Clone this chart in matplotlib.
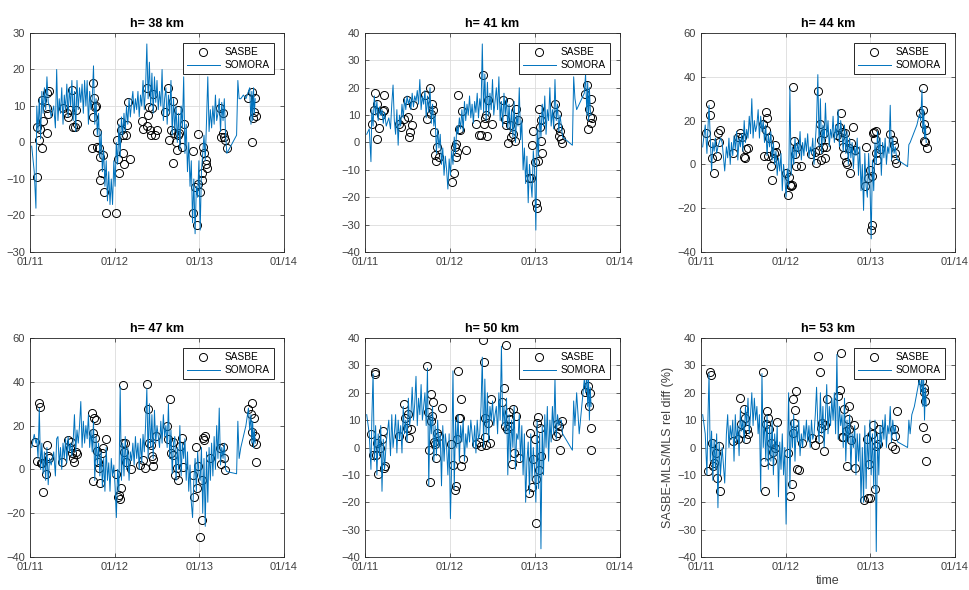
import numpy as np
import matplotlib
matplotlib.use('Agg')
import matplotlib.pyplot as plt

plt.rcParams['font.family'] = ['Liberation Sans', 'DejaVu Sans']

altitudes = [38, 41, 44, 47, 50, 53]
x_ticks = [2011, 2012, 2013, 2014]
x_tick_labels = ['01/11', '01/12', '01/13', '01/14']
y_limits = [(-30, 30), (-40, 40), (-40, 60), (-40, 60), (-40, 40), (-40, 40)]
y_steps = [10, 10, 20, 20, 10, 10]

# SOMORA sampling times (decimal year), shared by all altitudes
somora_t = [
    2011.02, 2011.05, 2011.07, 2011.08, 2011.095, 2011.11, 2011.125, 2011.14, 2011.155, 2011.17,
    2011.185, 2011.20, 2011.215, 2011.23, 2011.25, 2011.28, 2011.30, 2011.315, 2011.33, 2011.345,
    2011.36, 2011.375, 2011.39, 2011.405, 2011.42, 2011.435, 2011.45, 2011.465, 2011.48, 2011.495,
    2011.51, 2011.525, 2011.54, 2011.555, 2011.57, 2011.585, 2011.60, 2011.615, 2011.63, 2011.645,
    2011.66, 2011.675, 2011.69, 2011.705, 2011.72, 2011.735, 2011.75, 2011.765, 2011.78, 2011.795,
    2011.81, 2011.825, 2011.84, 2011.855, 2011.87, 2011.885, 2011.90, 2011.915, 2011.93, 2011.945,
    2011.96, 2011.975, 2011.99, 2012.005, 2012.02, 2012.035, 2012.05, 2012.065, 2012.08, 2012.095,
    2012.11, 2012.125, 2012.14, 2012.155, 2012.17, 2012.185, 2012.20, 2012.215, 2012.23, 2012.245,
    2012.26, 2012.275, 2012.29, 2012.305, 2012.32, 2012.335, 2012.35, 2012.365, 2012.38, 2012.395,
    2012.41, 2012.425, 2012.44, 2012.455, 2012.47, 2012.485, 2012.50, 2012.515, 2012.53, 2012.545,
    2012.56, 2012.575, 2012.59, 2012.605, 2012.62, 2012.635, 2012.65, 2012.665, 2012.68, 2012.695,
    2012.71, 2012.725, 2012.74, 2012.755, 2012.77, 2012.785, 2012.80, 2012.815, 2012.83, 2012.845,
    2012.86, 2012.875, 2012.89, 2012.905, 2012.92, 2012.935, 2012.95, 2012.965, 2012.98, 2012.995,
    2013.01, 2013.025, 2013.04, 2013.055, 2013.07, 2013.085, 2013.10, 2013.115, 2013.13, 2013.145,
    2013.16, 2013.175, 2013.19, 2013.205, 2013.22, 2013.235, 2013.25, 2013.265, 2013.28, 2013.295,
    2013.31, 2013.325, 2013.44, 2013.455, 2013.47, 2013.49, 2013.52, 2013.55, 2013.58, 2013.595,
    2013.61, 2013.62, 2013.63, 2013.64, 2013.65, 2013.66,
]

somora_38 = [
    -1, -8, -18, 10, 3, 12, 1, 14, 8, 15,
    9, 18, 11, 10, 7, 10, 4, 20, 6, 12,
    8, 15, 5, 13, 9, 16, 7, 15, 10, 17,
    6, 14, 3, 17, 9, 15, 11, 16, 8, 17,
    10, 17, 5, 14, 9, 12, 21, 5, 12, 2,
    8, -4, 3, -8, -2, -12, -5, -16, -8, -17,
    -10, -17, -5, -12, 0, -6, 5, -4, 7, 2,
    8, 3, 10, 5, 12, 7, 11, 14, 8, 12,
    9, 14, 7, 13, 10, 17, 9, 15, 27, 12,
    22, 10, 19, 8, 18, 11, 17, 9, 14, 10,
    20, 6, 12, 15, 5, 13, 8, 17, 2, 12,
    3, 10, 0, 8, -2, 10, 4, 18, -3, 5,
    -8, 0, -12, -5, -22, -10, -25, -12, -15, -5,
    -24, -8, -3, 2, -5, 6, 18, 3, 9, 4,
    10, 5, 13, 6, 8, 12, 3, 11, 6, 12,
    2, -3, 2, 17, 12, 12, 13, 12, 14, 15,
    5, 14, 6, 15, 8, 12,
]
somora_41 = [
    3, 5, -7, 12, 6, 17, 10, 15, 8, 13,
    10, 12, 7, 11, 6, 9, 5, 14, 21, 8,
    3, 12, -1, 10, 6, 14, 9, 16, 12, 17,
    14, 16, 12, 18, 13, 17, 15, 19, 14, 23,
    12, 17, 14, 19, 9, 17, 11, 20, 7, 14,
    6, 10, -4, 5, -2, 3, -8, -2, -12, -5,
    -10, -17, -6, -12, -3, -8, 2, -4, 6, 3,
    9, 5, 12, 4, 15, 8, 14, 10, 17, 9,
    14, 7, 15, 11, 18, 9, 16, 12, 36, 11,
    25, 8, 22, 10, 18, 12, 23, 10, 15, 20,
    12, 24, 8, 15, 6, 18, 10, 16, 5, 14,
    4, 12, 2, 15, 0, 10, 6, 20, 1, 8,
    -10, -2, -15, -5, -22, -8, -14, -20, -3, -10,
    -32, 5, -5, 10, 2, 14, 6, 17, 3, 12,
    8, 20, 6, 12, 5, 23, 8, 14, 4, 10,
    6, 2, -1, 24, 16, 12, 14, 16, 18, 25,
    10, 22, 8, 20, 12, 10,
]
somora_44 = [
    8, 18, 5, 15, 27, 12, -3, 10, 6, 12,
    5, 8, 10, 12, 10, -3, 8, 3, 12, 0,
    10, 4, 13, 7, 15, 2, 12, 8, 14, 6,
    20, 10, 16, 12, 22, 14, 30, 12, 20, 15,
    18, 25, 12, 22, 15, 20, 10, 18, 4, 14,
    8, 15, 2, 10, 0, 6, -5, 3, -3, 5,
    -12, 0, -6, -15, -2, -10, 35, -5, 8, 0,
    12, 3, 10, 5, 15, 2, 10, 4, 12, 6,
    14, 3, 8, 5, 12, 0, 10, 20, 41, 8,
    30, 5, 18, 10, 28, 12, 20, 8, 16, 12,
    22, 10, 18, 12, 25, 8, 20, 14, 6, 18,
    5, 15, 0, 12, 3, 10, -2, 8, 4, 12,
    -5, 8, -12, 0, -21, 5, -10, -15, 5, -8,
    -34, 2, -12, 10, 0, 15, 5, 12, -5, 10,
    3, 12, 0, 8, 5, 27, 2, 12, 5, 8,
    3, 2, -1, 9, 10, 12, 15, 18, 23, 20,
    34, 15, 25, 12, 18, 10,
]
somora_47 = [
    10, 16, 12, 14, 5, 28, 0, 12, -2, 8,
    -5, 10, -7, 5, 2, 8, -3, 14, 15, 2,
    10, 0, 12, 5, 14, 3, 15, 8, 12, 6,
    13, 25, 8, 18, 12, 20, 31, 10, 22, 12,
    20, 14, 25, 10, 18, 8, 22, -5, 15, 2,
    12, -3, 8, -8, 5, -10, 10, -5, 3, -10,
    5, -3, 2, -8, -22, 0, -10, 38, -5, 12,
    -3, 15, 0, 10, -5, 8, 4, 12, 2, 15,
    5, 12, 0, 14, 3, 16, 8, 20, 37, 5,
    30, 10, 25, 5, 27, 12, 20, 15, 10, 22,
    12, 25, 15, 20, 10, 30, 5, 18, -2, 12,
    15, -5, 10, 0, 20, -3, 12, 5, 14, -5,
    8, -10, 2, -15, -22, -5, 5, -10, 8, -2,
    -5, 10, -20, 5, -26, 8, -15, 10, -5, 12,
    -3, 15, 0, 20, 5, 28, 2, 10, 5, 12,
    0, -1, -2, 22, 5, 10, 15, 20, 28, 18,
    25, 12, 22, 10, 18, 12,
]
somora_50 = [
    12, 5, -8, 10, 27, -5, 8, -10, 5, -3,
    8, -16, 3, -8, 2, 10, -3, 12, 0, 5,
    12, -2, 10, 3, 8, -2, 15, 5, 10, 2,
    18, 8, 12, 22, 10, 16, 26, 8, 18, 12,
    23, 10, 15, 20, 8, 29, -14, 12, 5, 15,
    -5, 8, -3, 10, 0, 5, -14, 8, -5, 5,
    0, -10, 5, -26, -5, 28, -15, 10, 0, 12,
    -5, 8, 2, 10, -5, 5, 0, 8, 2, 10,
    5, 0, 8, -2, 10, 3, 5, 15, 33, 0,
    25, 5, 20, 2, 15, 10, 17, 8, 12, 15,
    5, 20, 10, 37, 8, 15, 5, 18, -10, 12,
    -5, 10, 0, 15, -8, 5, 3, 12, -5, 8,
    -10, 5, -20, -5, 2, -17, 5, -12, 0, -8,
    -20, 10, -15, 5, -37, 8, -10, 12, 0, 15,
    -5, 10, 2, 15, 5, 25, 3, 12, 8, 10,
    10, 5, -1, 17, 8, 20, 5, 15, 25, 20,
    28, 15, 25, 10, 22, 15,
]
somora_53 = [
    12, 5, -10, 8, 27, -5, 6, -12, 3, -8,
    5, -22, 2, -10, 0, -13, 5, 12, 0, 8,
    3, 10, -5, 12, 2, 8, -3, 14, 6, 10,
    2, 15, 8, 18, 5, 12, 20, 8, 18, 10,
    15, 5, 12, -16, 27, 0, 10, -5, 12, -8,
    8, -5, 10, -10, 5, -3, 8, -18, 2, -8,
    5, -10, 0, -28, -5, 20, -15, 10, 0, 12,
    -5, 8, 2, 10, -3, 5, 0, 8, 3, 10,
    2, 8, 0, 10, 3, 5, 12, 22, 8, 2,
    20, 5, 15, 0, 12, 23, 5, 15, 8, 18,
    10, 20, 5, 34, 3, 15, 8, 12, 0, 18,
    -5, 10, 2, 12, -8, 5, 0, 8, -10, 5,
    -5, 5, -20, 0, -20, 8, -15, 5, -8, 10,
    -10, 5, -15, 10, -38, 5, -10, 8, 0, 10,
    3, 12, 0, 8, 5, 15, 2, 10, 5, 8,
    3, 2, 0, 10, 5, 12, 15, 20, 25, 20,
    28, 15, 25, 10, 22, 15,
]

# SASBE points (decimal year, rel. diff %)
sasbe_38 = [
    (2011.079, -9.4), (2011.079, 4.3), (2011.118, 3.8), (2011.110, 0.8), (2011.138, -1.6), (2011.138, 11.6),
    (2011.157, 6.0), (2011.197, 9.4), (2011.217, 7.7), (2011.205, 2.7), (2011.197, 13.5), (2011.228, 14.2),
    (2011.394, 9.4), (2011.433, 8.0), (2011.453, 7.1), (2011.472, 8.9), (2011.492, 14.4), (2011.512, 4.3),
    (2011.531, 4.3), (2011.543, 8.9), (2011.559, 5.2),
    (2011.728, -1.5), (2011.748, 16.2), (2011.748, 7.1), (2011.760, 12.1), (2011.768, 9.8), (2011.776, 10.0),
    (2011.787, 2.9), (2011.795, -1.2), (2011.811, -1.5), (2011.827, -3.9), (2011.827, -10.2), (2011.846, -8.3),
    (2011.866, -3.3), (2011.878, -13.6), (2011.898, -19.3),
    (2012.016, -19.3), (2012.031, 0.8), (2012.043, -4.4), (2012.055, -8.3), (2012.071, 5.7), (2012.079, 3.4),
    (2012.094, 2.0), (2012.102, -3.0), (2012.110, -6.0), (2012.134, 2.0), (2012.142, 4.8), (2012.154, 11.0),
    (2012.181, -4.4),
    (2012.319, 6.0), (2012.339, 3.8), (2012.378, 14.9), (2012.378, 4.5), (2012.398, 7.5), (2012.406, 9.8),
    (2012.417, 3.4), (2012.425, 2.0), (2012.441, 9.4), (2012.457, 13.2), (2012.476, 2.0), (2012.496, 3.4),
    (2012.594, 8.3), (2012.634, 14.9), (2012.646, 0.8), (2012.661, 3.4), (2012.685, -5.5), (2012.693, 11.5),
    (2012.701, 2.7), (2012.724, 0.0), (2012.732, -2.1), (2012.744, 2.0), (2012.752, 8.9), (2012.764, 2.5),
    (2012.791, -1.2), (2012.823, 5.2),
    (2012.921, -2.3), (2012.929, -19.3), (2012.949, -12.2), (2012.969, -22.5), (2012.988, -11.3), (2012.988, 2.2),
    (2013.008, -13.6), (2013.028, -8.3), (2013.035, -10.4), (2013.047, -1.2), (2013.059, -3.0), (2013.075, -4.9),
    (2013.079, -5.8), (2013.087, -7.0),
    (2013.244, 9.5), (2013.256, 1.6), (2013.276, 8.0), (2013.283, 2.5), (2013.291, 1.6), (2013.303, 0.6),
    (2013.323, -1.4),
    (2013.579, 12.3), (2013.618, 13.9), (2013.626, 0.2), (2013.638, 6.6), (2013.650, 8.4), (2013.657, 12.1),
    (2013.665, 7.2),
]
sasbe_41 = [
    (2011.079, 6.6), (2011.110, 11.7), (2011.122, 18.2), (2011.138, 13.9), (2011.142, 1.2), (2011.161, 5.4),
    (2011.189, 9.9), (2011.208, 11.5), (2011.228, 17.5), (2011.220, 11.7),
    (2011.405, 6.9), (2011.425, 5.7), (2011.464, 8.7), (2011.492, 15.4), (2011.503, 9.3), (2011.515, 2.0),
    (2011.531, 3.8), (2011.554, 6.3), (2011.570, 13.6),
    (2011.700, 17.2), (2011.727, 8.7), (2011.759, 19.9), (2011.771, 10.5), (2011.783, 14.2), (2011.798, 11.7),
    (2011.806, 3.8), (2011.822, -4.4), (2011.838, -6.9), (2011.849, -1.6), (2011.865, -5.3),
    (2012.022, -14.4), (2012.042, -11.1), (2012.054, -1.6), (2012.066, -5.3), (2012.074, -0.4), (2012.081, -3.5),
    (2012.093, 17.2), (2012.101, 5.0), (2012.121, 4.4), (2012.144, 11.5), (2012.184, -2.6),
    (2012.310, 6.9), (2012.341, 2.9), (2012.368, 2.6), (2012.388, 24.5), (2012.400, 6.6), (2012.416, 9.1),
    (2012.427, 9.9), (2012.435, 2.3), (2012.451, 15.4), (2012.494, 6.9),
    (2012.624, 15.6), (2012.644, 8.7), (2012.664, 6.3), (2012.683, -0.2), (2012.695, 14.8), (2012.711, 6.3),
    (2012.723, 2.0), (2012.742, 3.2), (2012.762, 0.4), (2012.781, 12.4), (2012.801, 8.1),
    (2012.931, -13.0), (2012.958, -13.0), (2012.966, -0.8), (2012.982, 4.1), (2012.998, -7.1), (2013.017, -22.0),
    (2013.025, -23.8), (2013.037, -6.9), (2013.045, 12.4), (2013.057, 5.7), (2013.065, 8.1), (2013.072, 0.4),
    (2013.084, -3.9),
    (2013.241, 13.9), (2013.261, 10.3), (2013.273, 5.7), (2013.281, 2.3), (2013.292, 4.2), (2013.300, 1.4),
    (2013.312, -0.1),
    (2013.588, 17.6), (2013.615, 20.9), (2013.627, 5.0), (2013.639, 12.4), (2013.647, 9.3), (2013.655, 15.8),
    (2013.659, 7.1), (2013.667, 8.9),
]
sasbe_44 = [
    (2011.059, 14.2), (2011.107, 27.6), (2011.111, 22.6), (2011.130, 9.6), (2011.126, 2.7), (2011.150, -3.8),
    (2011.186, 4.0), (2011.197, 14.2), (2011.209, 10.4), (2011.225, 15.7),
    (2011.383, 5.3), (2011.434, 12.7), (2011.466, 14.2), (2011.482, 12.7), (2011.505, 3.5), (2011.525, 2.7),
    (2011.533, 7.0), (2011.553, 7.3),
    (2011.730, 18.5), (2011.742, 3.8), (2011.762, 23.7), (2011.770, 15.7), (2011.782, 21.1), (2011.790, 3.8),
    (2011.801, 11.9), (2011.821, -0.8), (2011.837, -7.2), (2011.849, 3.1), (2011.861, 5.0), (2011.869, 8.9),
    (2011.889, 5.8),
    (2012.007, -4.1), (2012.026, -14.0), (2012.038, -5.6), (2012.054, -9.5), (2012.066, -9.9), (2012.078, -9.5),
    (2012.086, 35.3), (2012.094, 10.7), (2012.105, 4.7), (2012.117, -0.8), (2012.133, 8.1), (2012.184, -0.8),
    (2012.303, 4.7), (2012.342, 5.8), (2012.362, 0.8), (2012.382, 33.3), (2012.394, 6.6), (2012.402, 18.5),
    (2012.413, 11.1), (2012.421, 2.0), (2012.441, 8.1), (2012.449, 14.2), (2012.461, 2.7), (2012.473, 8.1),
    (2012.607, 13.4), (2012.627, 17.3), (2012.639, 12.7), (2012.658, 23.4), (2012.666, 15.0), (2012.678, 8.1),
    (2012.690, 4.3), (2012.698, 14.5), (2012.717, 1.2), (2012.729, 0.0), (2012.745, 7.3), (2012.757, -4.1),
    (2012.769, 9.6), (2012.796, 17.3), (2012.816, 6.6),
    (2012.934, -9.9), (2012.954, 8.1), (2012.974, -6.4), (2012.994, -2.6), (2013.013, -29.8), (2013.025, -27.5),
    (2013.025, -5.3), (2013.033, 14.2), (2013.045, 15.0), (2013.053, 11.5), (2013.064, 15.4), (2013.072, 5.3),
    (2013.080, 2.0), (2013.120, 6.9),
    (2013.238, 13.9), (2013.262, 11.1), (2013.278, 8.9), (2013.290, 5.3), (2013.297, 2.3), (2013.309, 0.5),
    (2013.586, 23.4), (2013.617, 34.8), (2013.625, 24.9), (2013.633, 18.5), (2013.637, 10.7), (2013.645, 10.4),
    (2013.657, 15.7), (2013.665, 7.3),
]
sasbe_47 = [
    (2011.059, 12.4), (2011.079, 3.7), (2011.110, 30.5), (2011.118, 28.5), (2011.126, 2.9), (2011.146, 2.9),
    (2011.157, -10.1), (2011.189, -2.0), (2011.205, 11.3), (2011.217, 6.0), (2011.228, 5.2),
    (2011.374, 3.2), (2011.453, 13.6), (2011.472, 9.8), (2011.484, 12.4), (2011.500, 7.5), (2011.512, 5.2),
    (2011.524, 3.2), (2011.543, 7.8), (2011.559, 7.2),
    (2011.728, 25.6), (2011.740, 16.7), (2011.748, -5.2), (2011.760, 23.6), (2011.772, 14.4), (2011.780, 22.5),
    (2011.787, 8.3), (2011.799, 3.2), (2011.811, 0.6), (2011.827, -6.3), (2011.846, 7.5), (2011.858, 9.8),
    (2011.898, 13.9),
    (2012.016, -2.0), (2012.035, -12.4), (2012.051, -11.6), (2012.063, -13.6), (2012.079, -8.6), (2012.094, 38.4),
    (2012.102, 12.1), (2012.114, 7.8), (2012.122, 12.1), (2012.134, 3.2), (2012.189, 0.2),
    (2012.299, 2.1), (2012.331, 4.4), (2012.358, 0.6), (2012.378, 38.9), (2012.398, 27.4), (2012.409, 12.1),
    (2012.425, 11.3), (2012.437, 6.3), (2012.449, 1.4), (2012.457, 4.7), (2012.488, 15.2),
    (2012.622, 19.8), (2012.634, 13.9), (2012.654, 32.3), (2012.665, 7.5), (2012.685, 6.7), (2012.693, 12.4),
    (2012.713, -2.5), (2012.732, 0.6), (2012.752, -4.7), (2012.772, 10.9), (2012.791, 14.4), (2012.811, 0.9),
    (2012.921, -2.5), (2012.937, -12.4), (2012.957, 10.3), (2012.969, -8.6), (2012.988, 1.4), (2013.008, -30.8),
    (2013.028, -23.1), (2013.035, -4.7), (2013.047, 14.4), (2013.055, 13.6), (2013.063, 15.2), (2013.126, 5.2),
    (2013.244, 9.8), (2013.256, 2.5), (2013.276, 10.1), (2013.291, 5.2), (2013.303, -0.5),
    (2013.579, 27.7), (2013.606, 25.1), (2013.618, 30.5), (2013.626, 17.0), (2013.638, 12.4), (2013.650, 23.6),
    (2013.657, 15.2), (2013.665, 11.8), (2013.669, 3.2),
]
sasbe_50 = [
    (2011.071, 4.8), (2011.090, -2.7), (2011.118, 27.4), (2011.122, 26.8), (2011.130, -2.7), (2011.138, 1.5),
    (2011.157, -9.8), (2011.181, 0.0), (2011.197, 3.0), (2011.208, 6.0), (2011.220, -7.4), (2011.236, -6.8),
    (2011.405, 4.2), (2011.464, 15.8), (2011.476, 10.6), (2011.492, 7.3), (2011.503, 12.1), (2011.523, 3.6),
    (2011.543, 6.7),
    (2011.731, 29.9), (2011.743, 12.8), (2011.751, -0.9), (2011.759, -12.6), (2011.771, 19.7), (2011.779, 9.7),
    (2011.790, 11.5), (2011.798, 16.7), (2011.810, 2.0), (2011.822, 1.2), (2011.838, -3.7), (2011.849, 5.4),
    (2011.865, 4.2), (2011.904, 14.6),
    (2012.014, 1.4), (2012.034, -6.4), (2012.054, -15.6), (2012.066, -14.1), (2012.081, 3.0), (2012.093, 28.0),
    (2012.101, 10.6), (2012.113, 10.9), (2012.125, 17.6), (2012.132, -6.8), (2012.152, -4.1),
    (2012.310, 1.2), (2012.341, 2.0), (2012.368, 0.5), (2012.388, 39.4), (2012.400, 31.1), (2012.408, 4.0),
    (2012.416, 10.9), (2012.427, 0.8), (2012.447, 8.9), (2012.467, 1.5), (2012.486, 17.6),
    (2012.616, 16.7), (2012.632, 21.6), (2012.644, 7.9), (2012.663, 37.4), (2012.675, 6.7), (2012.691, 13.0),
    (2012.703, 10.3), (2012.711, 7.9), (2012.730, -5.9), (2012.742, 14.0), (2012.754, -1.9), (2012.781, 11.5),
    (2012.809, -3.7),
    (2012.931, -16.5), (2012.947, 5.4), (2012.966, -14.4), (2012.978, -4.3), (2012.998, 3.0), (2013.009, -11.4),
    (2013.017, -27.5), (2013.029, 8.9), (2013.037, 11.3), (2013.045, -8.2), (2013.057, 7.3), (2013.068, -3.1),
    (2013.245, 4.2), (2013.261, 8.5), (2013.273, 5.4), (2013.285, 7.9), (2013.292, -0.9), (2013.312, 9.7),
    (2013.588, 20.1), (2013.608, 26.8), (2013.627, 22.5), (2013.639, 15.2), (2013.647, 19.8), (2013.655, 7.1),
    (2013.659, -1.0),
]
sasbe_53 = [
    (2011.087, -8.6), (2011.106, 27.4), (2011.118, 26.4), (2011.134, 1.5), (2011.146, -6.8), (2011.158, -5.6),
    (2011.177, -1.9), (2011.193, -11.1), (2011.213, 0.5), (2011.225, -15.9),
    (2011.382, 2.4), (2011.441, 3.0), (2011.461, 18.0), (2011.473, 8.5), (2011.489, 5.4), (2011.509, 14.0),
    (2011.521, 10.9), (2011.532, 3.0), (2011.548, 6.7), (2011.560, 4.8),
    (2011.729, 27.7), (2011.745, -5.2), (2011.753, -15.9), (2011.765, 8.5), (2011.777, 13.4), (2011.788, 10.9),
    (2011.804, 6.9), (2011.828, 1.5), (2011.844, -4.9), (2011.855, -1.5), (2011.875, 0.0), (2011.895, 9.3),
    (2012.033, -1.9), (2012.053, -17.8), (2012.072, -13.5), (2012.084, 17.6), (2012.092, 5.4), (2012.100, 9.1),
    (2012.112, 13.6), (2012.123, 20.7), (2012.131, -7.8), (2012.163, -8.4), (2012.190, 1.8),
    (2012.308, 3.6), (2012.348, 0.9), (2012.387, 33.5), (2012.399, 3.0), (2012.407, 27.4), (2012.419, 7.3),
    (2012.427, 9.1), (2012.447, -1.3), (2012.466, 8.1), (2012.494, 17.6),
    (2012.616, 18.9), (2012.636, 21.1), (2012.655, 34.4), (2012.663, 4.0), (2012.683, 4.0), (2012.694, 14.2),
    (2012.710, 6.0), (2012.725, -6.8), (2012.737, 10.3), (2012.745, 15.0), (2012.753, 6.7), (2012.773, 2.7),
    (2012.804, 8.1), (2012.824, -7.4),
    (2012.931, -19.2), (2012.959, 3.0), (2012.971, -18.4), (2012.983, -6.2), (2012.998, -18.6), (2013.018, 4.8),
    (2013.037, 8.2), (2013.057, -15.3), (2013.069, 0.5), (2013.088, 1.2), (2013.108, 6.7),
    (2013.254, 0.5), (2013.274, 6.7), (2013.286, 4.2), (2013.293, -0.4), (2013.313, 13.4),
    (2013.609, 24.4), (2013.621, 7.6), (2013.629, 21.9), (2013.637, 20.1), (2013.649, 17.0), (2013.660, 3.6),
    (2013.660, -4.9),
]

somora_all = [somora_38, somora_41, somora_44, somora_47, somora_50, somora_53]
sasbe_all = [sasbe_38, sasbe_41, sasbe_44, sasbe_47, sasbe_50, sasbe_53]

for s in somora_all:
    if len(s) != len(somora_t):
        raise ValueError(f"length mismatch {len(s)} vs {len(somora_t)}")

# axes rectangles in pixels: left, top, right, bottom
W, H = 969, 590
rects_px = [
    (30, 33, 284, 252), (365, 33, 620, 252), (701, 33, 955, 252),
    (30, 338, 284, 557), (365, 338, 620, 557), (701, 338, 955, 557),
]

fig = plt.figure(figsize=(W / 100, H / 100), dpi=100)
blue = '#0072BD'
dark = '#262626'
tickc = '#404040'

for i, alt in enumerate(altitudes):
    l, t, r, b = rects_px[i]
    ax = fig.add_axes([l / W, 1 - b / H, (r - l) / W, (b - t) / H])
    pts = np.array(sasbe_all[i])
    ax.plot(pts[:, 0], pts[:, 1], linestyle='none', marker='o', markersize=5.8,
            markerfacecolor='none', markeredgecolor='black', markeredgewidth=0.7,
            label='SASBE')
    ax.plot(somora_t, somora_all[i], color=blue, linewidth=0.7, label='SOMORA')
    ax.set_xlim(x_ticks[0], x_ticks[-1])
    ax.set_xticks(x_ticks)
    ax.set_xticklabels(x_tick_labels)
    lo, hi = y_limits[i]
    ax.set_ylim(lo, hi)
    ax.set_yticks(np.arange(lo, hi + 1, y_steps[i]))
    ax.grid(True, color='#dcdcdc', linewidth=0.6)
    ax.set_axisbelow(True)
    for sp in ax.spines.values():
        sp.set_color(dark)
        sp.set_linewidth(0.6)
    ax.tick_params(direction='in', length=3, width=0.5, colors=dark,
                   labelcolor=tickc, labelsize=8, top=True, right=True)
    ax.set_title(f'h= {alt} km', fontsize=9, fontweight='bold', pad=4)
    leg = ax.legend(loc='upper right', fontsize=7.3, frameon=True, fancybox=False,
                    edgecolor=dark, framealpha=1, handlelength=3.2, handletextpad=0.5,
                    borderaxespad=1.0, borderpad=0.4, labelspacing=0.3)
    leg.get_frame().set_linewidth(0.7)
    if i == 5:
        ax.set_ylabel('SASBE-MLS/MLS rel diff (%)', fontsize=9, color=tickc, labelpad=2)
        ax.set_xlabel('time', fontsize=9, color=tickc, labelpad=2)

fig.savefig('out.png', dpi=100)
